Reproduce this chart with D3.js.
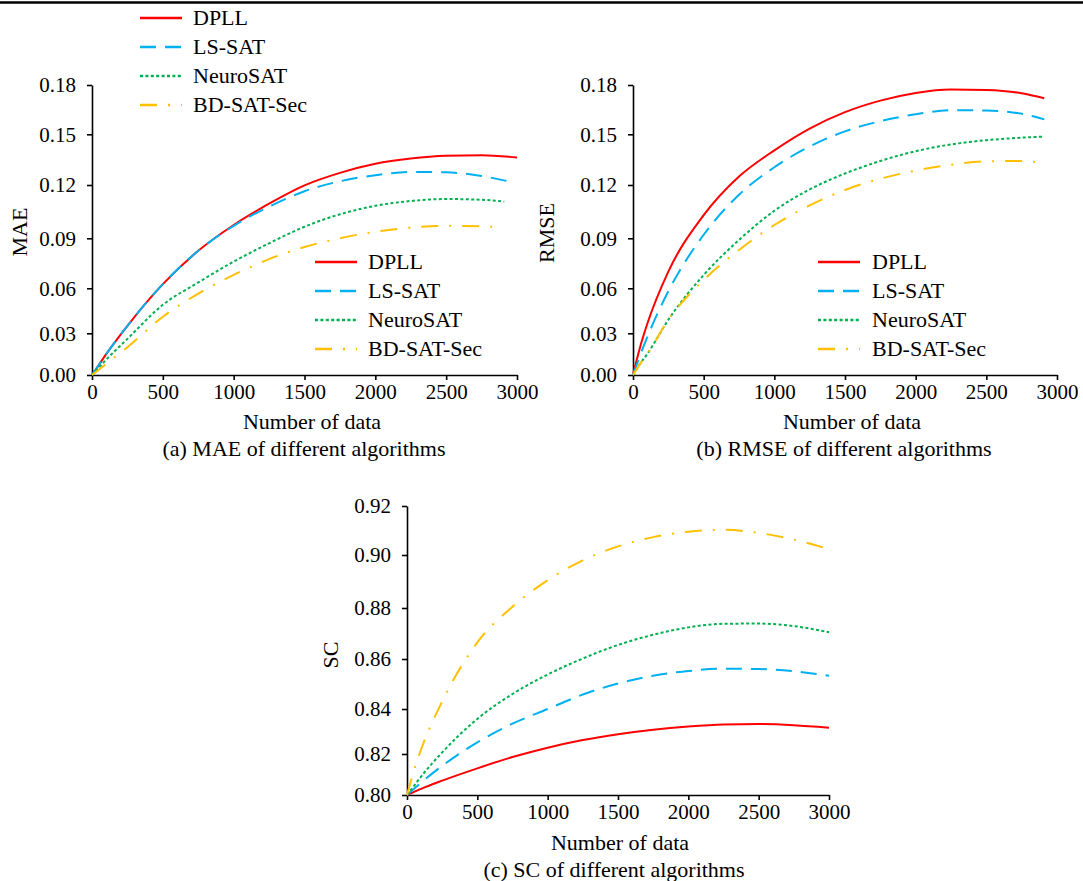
<!DOCTYPE html>
<html lang="en">
<head>
<meta charset="UTF-8">
<title>MAE / RMSE / SC of different algorithms</title>
<script src="https://d3js.org/d3.v7.min.js"></script>
<style>
    body { margin: 0; background: #fff; }
    svg, svg text {
        font-family: "Liberation Serif", "Times New Roman", Times, "Nimbus Roman", "DejaVu Serif", serif;
    }
    .axis path, .axis line { stroke: #000; stroke-width: 1.6px; }
    .axis text { font-size: 21px; fill: #000; }
    .title { font-size: 22px; fill: #000; }
    .legend text { font-size: 22px; fill: #000; }
</style>
</head>
<body>
<script>
    const algorithms = ["DPLL", "LS-SAT", "NeuroSAT", "BD-SAT-Sec"];
    const xTicks = [0, 500, 1000, 1500, 2000, 2500, 3000];
    // sample positions shared by every curve, last point is per-series
    const xData = [0, 50, 100, 250, 500, 750, 1000, 1250, 1500, 1750, 2000, 2250, 2500, 2750];

    // (a) MAE
    const maeTicks = [0, 0.03, 0.06, 0.09, 0.12, 0.15, 0.18];
    const maeEndX = [3000, 2970, 2910, 2880];
    const maeDPLL = [0, 0.0075, 0.015, 0.035, 0.0625, 0.0825, 0.0975, 0.1095, 0.1198, 0.1272, 0.1326, 0.1357, 0.1373, 0.1376, 0.1363];
    const maeLS = [0, 0.0075, 0.015, 0.035, 0.0625, 0.0825, 0.097, 0.1078, 0.1165, 0.1222, 0.1258, 0.1277, 0.1275, 0.1253, 0.1216];
    const maeNeuro = [0, 0.0055, 0.011, 0.026, 0.049, 0.0635, 0.076, 0.087, 0.0965, 0.1035, 0.1083, 0.111, 0.1121, 0.1117, 0.1106];
    const maeBD = [0, 0.004, 0.008, 0.020, 0.041, 0.0565, 0.068, 0.0775, 0.0848, 0.0900, 0.0937, 0.096, 0.097, 0.0968, 0.096];

    // (b) RMSE
    const rmseTicks = [0, 0.03, 0.06, 0.09, 0.12, 0.15, 0.18];
    const rmseEndX = [2910, 2910, 2900, 2870];
    const rmseDPLL = [0, 0.020, 0.036, 0.070, 0.103, 0.125, 0.1405, 0.1535, 0.1635, 0.1705, 0.1752, 0.1773, 0.1770, 0.1750, 0.1719];
    const rmseLS = [0, 0.014, 0.027, 0.058, 0.092, 0.1145, 0.1305, 0.1428, 0.1518, 0.1580, 0.1622, 0.1647, 0.1645, 0.1625, 0.1591];
    const rmseNeuro = [0, 0.008, 0.015, 0.039, 0.068, 0.089, 0.1055, 0.1175, 0.1268, 0.1342, 0.1400, 0.1440, 0.1465, 0.1480, 0.1486];
    const rmseBD = [0, 0.008, 0.015, 0.039, 0.065, 0.083, 0.0975, 0.1085, 0.1172, 0.1237, 0.1285, 0.1320, 0.1340, 0.1342, 0.1334];

    // (c) SC
    const scTicks = [0.80, 0.82, 0.84, 0.86, 0.88, 0.90, 0.92];
    const scEndX = [3000, 3000, 3000, 3000];
    const scDPLL = [0.80, 0.8015, 0.803, 0.807, 0.813, 0.8185, 0.8228, 0.8262, 0.8288, 0.8308, 0.8322, 0.8331, 0.8333, 0.8328, 0.8317];
    const scLS = [0.80, 0.803, 0.806, 0.8142, 0.8252, 0.8335, 0.840, 0.8458, 0.8502, 0.8533, 0.8552, 0.8561, 0.856, 0.8551, 0.8533];
    const scNeuro = [0.80, 0.8045, 0.809, 0.8207, 0.8356, 0.846, 0.8538, 0.8602, 0.8655, 0.8695, 0.8724, 0.8738, 0.8739, 0.8729, 0.8705];
    const scBD = [0.80, 0.812, 0.822, 0.843, 0.8665, 0.8805, 0.8905, 0.898, 0.9035, 0.9073, 0.9095, 0.9103, 0.909, 0.9063, 0.9024];

    const colors = ["#ff0000", "#00b0f0", "#00b050", "#ffc000"];
    const dashes = [null, "16,9", "3,2.4", "17,11,2,11"];

    const svg = d3.select("body").append("svg")
        .attr("width", 1083)
        .attr("height", 881);

    // rule at the very top of the page
    svg.append("line")
        .attr("x1", 0).attr("x2", 1083)
        .attr("y1", 2.5).attr("y2", 2.5)
        .attr("stroke", "#000").attr("stroke-width", 2.5);

    // tick pixel positions follow the reference's (slightly uneven) spacing
    const panels = [
        { left: 92, right: 517, yTicks: maeTicks, yPos: [375, 333.3, 288.3, 238.3, 185, 134.3, 85],
          endX: maeEndX, series: [maeDPLL, maeLS, maeNeuro, maeBD],
          yLabel: "MAE", yLabelX: 20, yLabelY: 232, xLabelX: 312, xLabelY: 429,
          caption: "(a) MAE of different algorithms", captionX: 304, captionY: 456,
          legend: { x: 315, y: 262, textX: 368 } },
        { left: 633, right: 1057, yTicks: rmseTicks, yPos: [375, 333.3, 288.3, 238.3, 185, 134.3, 85],
          endX: rmseEndX, series: [rmseDPLL, rmseLS, rmseNeuro, rmseBD],
          yLabel: "RMSE", yLabelX: 547, yLabelY: 233, xLabelX: 852, xLabelY: 429,
          caption: "(b) RMSE of different algorithms", captionX: 844, captionY: 456,
          legend: { x: 818, y: 262, textX: 872 } },
        { left: 407, right: 829, yTicks: scTicks, yPos: [795, 754, 709, 659, 608, 555, 506],
          endX: scEndX, series: [scDPLL, scLS, scNeuro, scBD],
          yLabel: "SC", yLabelX: 331, yLabelY: 655, xLabelX: 620, xLabelY: 850,
          caption: "(c) SC of different algorithms", captionX: 614, captionY: 877,
          legend: null }
    ];

    function drawLegend(lx, ly, textX) {
        const g = svg.append("g").attr("class", "legend");
        algorithms.forEach((name, i) => {
            const yy = ly + i * 29;
            g.append("line")
                .attr("x1", lx).attr("x2", lx + 42)
                .attr("y1", yy).attr("y2", yy)
                .attr("stroke", colors[i])
                .attr("stroke-width", 2.5)
                .attr("stroke-dasharray", dashes[i]);
            g.append("text")
                .attr("x", textX).attr("y", yy + 7)
                .text(name);
        });
    }

    function drawPanel(p) {
        const x = d3.scaleLinear().domain([0, 3000]).range([p.left, p.right]);
        const y = d3.scaleLinear().domain(p.yTicks).range(p.yPos);

        svg.append("g")
            .attr("class", "axis")
            .attr("transform", `translate(0,${p.yPos[0]})`)
            .call(d3.axisBottom(x).tickValues(xTicks).tickSize(5).tickSizeOuter(0)
                .tickPadding(4).tickFormat(d3.format("d")))
            .attr("font-size", null).attr("font-family", null);

        svg.append("g")
            .attr("class", "axis")
            .attr("transform", `translate(${p.left},0)`)
            .call(d3.axisLeft(y).tickValues(p.yTicks).tickSize(5).tickSizeOuter(0)
                .tickPadding(11).tickFormat(d3.format(".2f")))
            .attr("font-size", null).attr("font-family", null);

        const line = d3.line()
            .x(d => x(d[0]))
            .y(d => y(d[1]))
            .curve(d3.curveMonotoneX);

        p.series.forEach((vals, i) => {
            const xs = xData.concat([p.endX[i]]);
            const pts = vals.map((v, j) => [xs[j], v]);
            svg.append("path")
                .datum(pts)
                .attr("fill", "none")
                .attr("stroke", colors[i])
                .attr("stroke-width", 2)
                .attr("stroke-dasharray", dashes[i])
                .attr("d", line);
        });

        svg.append("text")
            .attr("class", "title")
            .attr("transform", `translate(${p.yLabelX + 7},${p.yLabelY}) rotate(-90)`)
            .attr("text-anchor", "middle")
            .text(p.yLabel);

        svg.append("text")
            .attr("class", "title")
            .attr("x", p.xLabelX).attr("y", p.xLabelY)
            .attr("text-anchor", "middle")
            .text("Number of data");

        svg.append("text")
            .attr("class", "title")
            .attr("x", p.captionX).attr("y", p.captionY)
            .attr("text-anchor", "middle")
            .text(p.caption);

        if (p.legend) drawLegend(p.legend.x, p.legend.y, p.legend.textX);
    }

    panels.forEach(drawPanel);

    // legend left over at the top of the page
    drawLegend(140, 18, 193);
</script>
</body>
</html>
